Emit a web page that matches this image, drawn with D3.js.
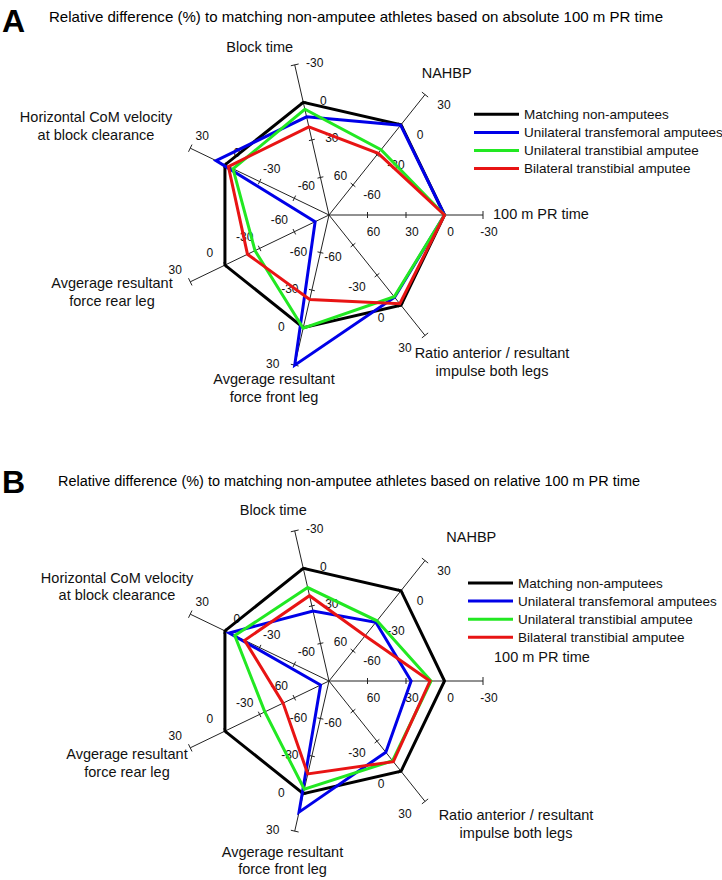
<!DOCTYPE html>
<html><head><meta charset="utf-8">
<script src="https://cdn.jsdelivr.net/npm/d3@7"></script>
<style>body{margin:0;background:#fff}svg{display:block;font-family:"Liberation Sans",Arial,sans-serif}</style>
</head><body><script>
// ---------- data ----------
const axisNames = [
  "100 m PR time",
  "NAHBP",
  "Block time",
  "Horizontal CoM velocity|at block clearance",
  "Avgerage resultant|force rear leg",
  "Avgerage resultant|force front leg",
  "Ratio anterior / resultant|impulse both legs"
];
const axisReversed = [true, false, true, false, false, false, false];
const tickValuesNormal = [-60, -30, 0, 30];
const tickValuesReversed = [60, 30, 0, -30];
const seriesNames = ["Matching non-amputees", "Unilateral transfemoral amputees", "Unilateral transtibial amputee", "Bilateral transtibial amputee"];
const seriesColors = ["#000000", "#0000e8", "#22e822", "#e81414"];
// order: PR time, NAHBP, Block time, Horiz CoM, rear leg, front leg, ratio
const absMatching       = [0, 0, 0, 0, 0, 0, 0];
const absTransfemoral   = [0, -0.5, 11.5, 7.7, -78, 30, -8];
const absUniTranstibial = [0, -25, 5.5, -7, -26, 0.5, -8.5];
const absBiTranstibial  = [0, -28.5, 19.5, -3, -19.5, -22.5, -1.5];
const relMatching       = [0, 0, 0, 0, 0, 0, 0];
const relTransfemoral   = [26, -31.5, 34, -3.7, -82.7, 14.8, -19];
const relUniTranstibial = [10.5, -30, 15.3, -8.5, -34.5, -3.5, -10.5];
const relBiTranstibial  = [11.3, -45, 21.8, -17, -50.3, -15.7, -9.6];
const panelLetters = ["A", "B"];
const panelTitles = [
  "Relative difference (%) to matching non-amputee athletes based on absolute 100 m PR time",
  "Relative difference (%) to matching non-amputee athletes based on relative 100 m PR time"
];

// ---------- layout ----------
const W = 722, H = 880, R = 154, N = axisNames.length;
const panels = [
  {cx: 329, cy: 215, letterY: 32, titleX: 49, titleY: 22, titleLen: 614, titleSize: 14.5,
   data: [absMatching, absTransfemoral, absUniTranstibial, absBiTranstibial],
   legendX: 474, legendY: 114.3,
   labels: [[493,219,"start"],[446.7,78],[259.7,51.5],[96,122.3],[112,288],[274,384],[492,358]]},
  {cx: 329, cy: 681, letterY: 493, titleX: 58, titleY: 486, titleLen: 582, titleSize: 14,
   data: [relMatching, relTransfemoral, relUniTranstibial, relBiTranstibial],
   legendX: 468, legendY: 583,
   labels: [[494,662,"start"],[471.3,541.5],[273.3,514.5],[117,582.7],[127,759.3],[282.5,856.7],[516,820]]}
];
const tickLabelOffsets = [[6,16.5],[19,10],[20,-2],[12,-12.5],[-15,-12],[-22,-1],[-20,12]];

const svg = d3.select("body").append("svg").attr("width", W).attr("height", H);
const angle = i => Math.PI / 2 - i * 2 * Math.PI / N;
const scales = axisReversed.map(rev => d3.scaleLinear().domain(rev ? [90, -30] : [-90, 30]).range([0, R]));
const pt = (i, r) => [r * Math.sin(angle(i)), -r * Math.cos(angle(i))];

panels.forEach((p, pi) => {
  // letter and title
  svg.append("text").attr("x", 2).attr("y", p.letterY).attr("font-size", 32).attr("font-weight", "bold").text(panelLetters[pi]);
  const t = svg.append("text").attr("x", p.titleX).attr("y", p.titleY).attr("font-size", p.titleSize).text(panelTitles[pi]);
  t.attr("textLength", p.titleLen).attr("lengthAdjust", "spacingAndGlyphs");

  const g = svg.append("g").attr("transform", `translate(${p.cx},${p.cy})`);
  // axes
  axisNames.forEach((name, i) => {
    const s = scales[i];
    const [ex, ey] = pt(i, R);
    g.append("line").attr("x1", 0).attr("y1", 0).attr("x2", ex).attr("y2", ey).attr("stroke", "#222").attr("stroke-width", 1);
    const ux = Math.sin(angle(i)), uy = -Math.cos(angle(i));
    const px = -uy, py = ux;
    const tv = axisReversed[i] ? tickValuesReversed : tickValuesNormal;
    tv.forEach((v, k) => {
      const r = s(v);
      const [x, y] = pt(i, r);
      const hl = k === tv.length - 1 ? 4 : 3;
      g.append("line").attr("x1", x - px * hl).attr("y1", y - py * hl).attr("x2", x + px * hl).attr("y2", y + py * hl)
        .attr("stroke", "#222").attr("stroke-width", 1);
      g.append("text").attr("x", x + tickLabelOffsets[i][0]).attr("y", y + tickLabelOffsets[i][1])
        .attr("dy", "0.35em").attr("text-anchor", "middle").attr("font-size", 12).attr("fill", "#111").text(v);
    });
  });
  // axis names
  axisNames.forEach((name, i) => {
    const L = p.labels[i];
    const txt = svg.append("text").attr("x", L[0]).attr("y", L[1]).attr("font-size", 14.5)
      .attr("text-anchor", L[2] || "middle").attr("fill", "#111");
    name.split("|").forEach((line, li) => {
      txt.append("tspan").attr("x", L[0]).attr("dy", li === 0 ? 0 : 17.5).text(line);
    });
  });
  // series polygons
  const radial = d3.lineRadial().angle((d, i) => angle(i)).radius((d, i) => scales[i](d)).curve(d3.curveLinearClosed);
  p.data.forEach((vals, si) => {
    g.append("path").attr("d", radial(vals)).attr("fill", "none").attr("stroke", seriesColors[si])
      .attr("stroke-width", 3).attr("stroke-linejoin", "miter");
  });
  // legend
  seriesNames.forEach((n, si) => {
    const y = p.legendY + si * 18.1;
    svg.append("line").attr("x1", p.legendX).attr("x2", p.legendX + 45).attr("y1", y).attr("y2", y)
      .attr("stroke", seriesColors[si]).attr("stroke-width", 3);
    svg.append("text").attr("x", p.legendX + 50).attr("y", y).attr("dy", "0.35em").attr("font-size", 13.5).attr("fill", "#111").text(n);
  });
});
</script></body></html>
